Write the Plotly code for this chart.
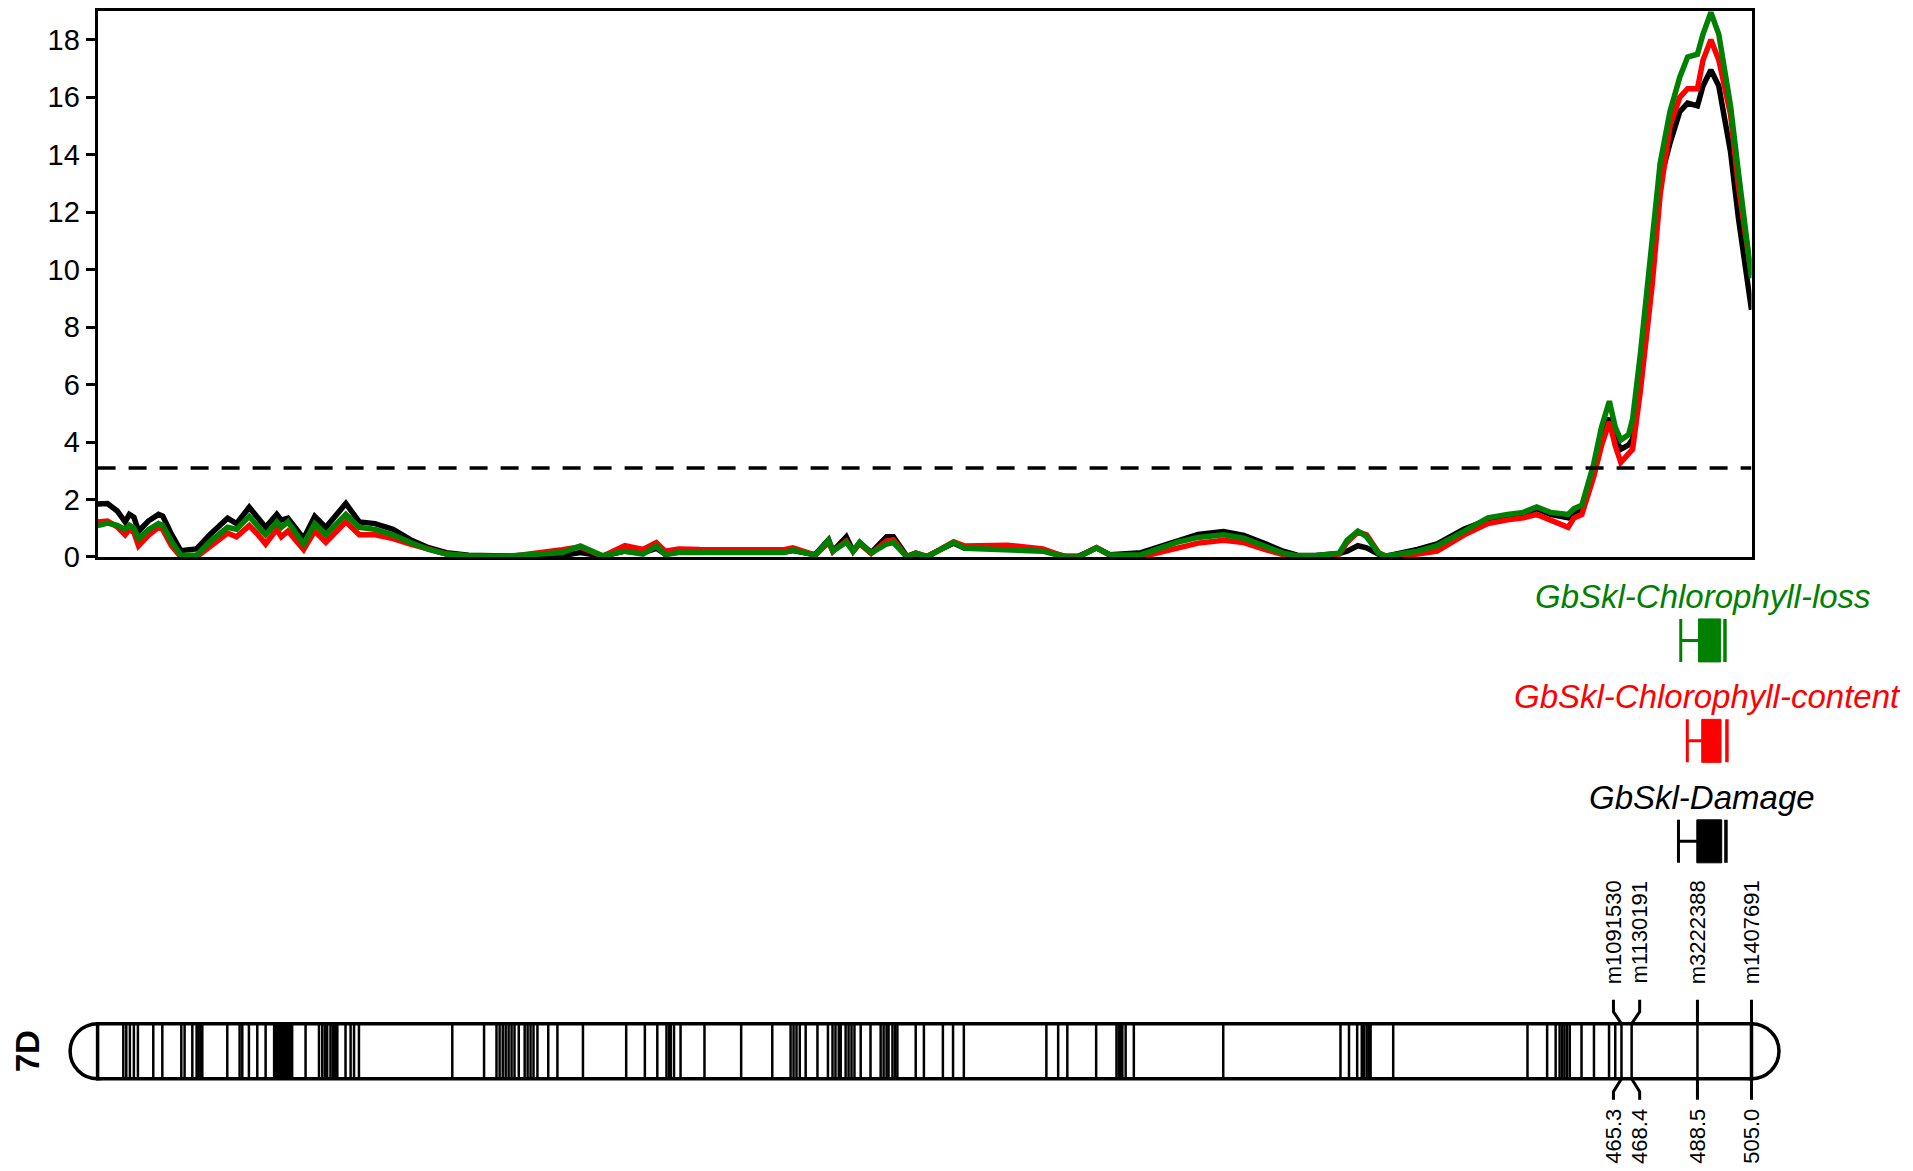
import plotly.graph_objects as go

W, H = 1913, 1171
OFF = 8                          # default page body margin of the written html
KY = 0.985                       # measured vertical scale of the photographed page
FW = W - 2 * OFF
FH = round(H / KY) - 2 * OFF

# ---------------- data ----------------
pos_mb = [0, 3, 6, 8.4, 9.7, 11.1, 12.5, 15.5, 18.6, 19.9, 22.5, 25.4, 30.2, 34.5, 39.7, 42.4,
          46.3, 48.8, 51.3, 54.7, 56.1, 58.1, 62.9, 66.3, 69.7, 75.8, 79.9, 84.7, 90.2, 95.5,
          101.1, 106.5, 113.3, 125, 141.9, 147.4, 154.2, 161.0, 166.5, 170.6, 173.3, 177.4,
          183.9, 195.9, 209.6, 212.3, 219.1, 223.2, 224.5, 228.6, 230.7, 232.7, 236.2, 240.9,
          243.0, 247.1, 249.8, 253.2, 261.4, 264.8, 277.7, 288.6, 295.5, 299.5, 305.0, 309.1,
          318.6, 324.0, 329.5, 336.0, 343.8, 350.0, 356.8, 362.0, 366.3, 372.0, 379.1, 381.5,
          384.8, 387.5, 391.1, 393.4,
          403.0, 409.0, 417.3, 424.5, 430.5, 435.3, 439.4, 443.6, 449.0, 450.8, 453.2, 456.8,
          459.2, 461.6, 463.4, 465.1, 467.5, 468.7, 471.1, 474.7, 477.1, 480.1, 483.1, 485.5,
          488.5, 490.2, 492.6, 495.0, 498.6, 501.0, 505.0]

lod_damage = [1.84, 1.86, 1.6, 1.22, 1.48, 1.38, 0.9, 1.25, 1.48, 1.42, 0.8, 0.22, 0.28, 0.8, 1.35, 1.16,
              1.73, 1.4, 1.03, 1.48, 1.28, 1.35, 0.64, 1.41, 1.03, 1.86, 1.22, 1.16, 0.96, 0.6,
              0.32, 0.15, 0.06, 0.03, 0.05, 0.15, 0.03, 0.2, 0.15, 0.3, 0.1, 0.18,
              0.2, 0.2, 0.17, 0.22, 0.08, 0.6, 0.2, 0.7, 0.2, 0.5, 0.15, 0.7,
              0.7, 0.02, 0.13, 0.02, 0.48, 0.3, 0.35, 0.22, 0.02, 0.02, 0.32, 0.08,
              0.15, 0.35, 0.58, 0.78, 0.88, 0.75, 0.45, 0.2, 0.06, 0.05, 0.12, 0.2,
              0.39, 0.32, 0.1, 0.03,
              0.26, 0.45, 0.97, 1.29, 1.42, 1.48, 1.68, 1.48, 1.36, 1.55, 1.68, 3.1,
              4.1, 4.84, 4.1, 3.75, 3.9, 4.1, 6.46, 10.3, 13.1, 14.4, 15.5, 15.8,
              15.7, 16.4, 16.95, 16.4, 14.1, 11.8, 8.6]

lod_content = [1.22, 1.25, 1.05, 0.77, 0.96, 0.85, 0.39, 0.75, 1.03, 0.95, 0.4, 0.0, 0.0, 0.35, 0.83, 0.7,
               1.09, 0.8, 0.45, 0.96, 0.7, 0.9, 0.26, 0.9, 0.51, 1.22, 0.77, 0.77, 0.64, 0.45,
               0.26, 0.1, 0.02, 0.0, 0.25, 0.35, 0.02, 0.39, 0.26, 0.5, 0.2, 0.28,
               0.26, 0.26, 0.25, 0.32, 0.06, 0.5, 0.2, 0.55, 0.2, 0.45, 0.12, 0.55,
               0.6, 0.0, 0.13, 0.0, 0.53, 0.38, 0.41, 0.28, 0.0, 0.0, 0.32, 0.06,
               0.0, 0.15, 0.32, 0.48, 0.58, 0.5, 0.25, 0.08, 0.0, 0.02, 0.1, 0.5,
               0.87, 0.77, 0.15, 0.02,
               0.1, 0.2, 0.77, 1.16, 1.29, 1.36, 1.48, 1.29, 1.03, 1.36, 1.48, 2.78,
               3.87, 4.71, 3.87, 3.29, 3.6, 3.75, 5.81, 9.5, 12.6, 15.0, 16.0, 16.3,
               16.3, 17.3, 18.0, 17.3, 15.4, 12.9, 9.8]

lod_loss = [1.09, 1.18, 1.1, 0.96, 1.1, 1.0, 0.64, 0.95, 1.16, 1.1, 0.55, 0.06, 0.06, 0.55, 1.03, 0.96,
            1.41, 1.1, 0.77, 1.22, 1.03, 1.22, 0.45, 1.16, 0.77, 1.48, 1.03, 0.96, 0.77, 0.5,
            0.26, 0.1, 0.04, 0.03, 0.15, 0.38, 0.04, 0.2, 0.1, 0.38, 0.08, 0.15,
            0.15, 0.15, 0.15, 0.24, 0.06, 0.58, 0.2, 0.51, 0.2, 0.51, 0.13, 0.45,
            0.5, 0.0, 0.13, 0.0, 0.51, 0.3, 0.26, 0.2, 0.0, 0.0, 0.32, 0.07,
            0.08, 0.28, 0.51, 0.68, 0.77, 0.65, 0.35, 0.13, 0.04, 0.05, 0.13, 0.58,
            0.9, 0.7, 0.13, 0.03,
            0.2, 0.39, 0.9, 1.36, 1.48, 1.55, 1.74, 1.55, 1.48, 1.68, 1.8, 3.23,
            4.52, 5.42, 4.52, 4.07, 4.26, 4.8, 7.1, 10.85, 13.7, 15.5, 16.7, 17.4,
            17.5, 18.2, 18.95, 18.2, 15.7, 13.4, 9.7]

lod_threshold = 3.1
y_tick_vals = [0, 2, 4, 6, 8, 10, 12, 14, 16, 18]

chrom_name = "7D"
chrom_len = 505.0
band_mb = [7.85, 8.76, 9.86, 11.08, 12.31, 17.0, 19.76, 25.56, 26.56, 28.92, 30.23, 30.84, 31.45, 31.97,
           39.6, 43.36, 44.18, 46.2, 48.76, 51.3, 53.9, 54.35, 54.8, 55.27, 55.7, 56.2, 56.6, 57.1,
           57.6, 58.0, 58.5, 58.9, 59.4, 63.5, 67.6, 68.6, 69.4, 70.1, 71.1, 71.8, 72.3, 72.8, 73.2,
           75.7, 77.25, 78.3, 79.8, 108.3, 118.0, 121.8, 122.75, 123.7, 124.6, 125.5, 126.4, 127.3,
           128.6, 130.4, 131.3, 132.2, 133.1, 134.3, 137.6, 140.4, 148.2, 161.4, 167.1, 170.9,
           173.7, 174.5, 175.0, 176.0, 178.0, 185.3, 196.5, 206.0, 211.6, 212.5, 213.4, 214.4,
           216.2, 219.8, 223.0, 224.4, 225.3, 226.3, 226.9, 228.4, 229.3, 230.2, 231.1, 233.0,
           236.0, 239.1, 240.0, 240.9, 241.5, 242.7, 243.5, 244.2, 249.8, 252.3, 258.1, 261.2,
           264.5, 289.7, 293.3, 296.1, 304.9, 311.1, 311.8, 312.4, 312.9, 313.9, 316.4, 343.7,
           379.5, 382.1, 384.6, 386.0, 386.7, 387.5, 388.2, 388.7, 395.6, 436.6, 442.6, 445.2,
           446.4, 447.2, 447.9, 448.7, 449.5, 453.1, 456.9, 461.5, 463.4]

marker_names = ["m1091530", "m1130191", "m3222388", "m1407691"]
marker_mb = [465.3, 468.4, 488.5, 505.0]

qtl_names = ["GbSkl-Chlorophyll-loss", "GbSkl-Chlorophyll-content", "GbSkl-Damage"]
qtl_colors = ["#008000", "#ff0000", "#000000"]
qtl_outer_left = [483.4, 485.4, 482.7]
qtl_box_left = [488.8, 489.8, 488.3]
qtl_box_right = [495.6, 495.7, 495.9]
qtl_outer_right = [496.9, 497.5, 497.2]

# ---------------- layout geometry (target picture pixels) ----------------
X0, X1 = 97.6, 1751.5          # pixel positions of 0 and chrom_len
PXMB = (X1 - X0) / chrom_len
TOP, BOT = 9, 555              # LOD plot area
CT, CB = 1022, 1077            # chromosome top/bottom
CH = CB - CT
PAD_MB = 12
Y2_LO, Y2_HI = -0.6, 1.6
FONT = "Liberation Sans, Arial"


def fx(p):
    return (p - OFF) / FW


def fy(p):
    return 1 - (p / KY - OFF) / FH


fig = go.Figure()

# LOD curves
for vals, col in [(lod_damage, "#000000"), (lod_content, "#ff0000"), (lod_loss, "#008000")]:
    fig.add_trace(go.Scatter(x=pos_mb, y=vals, mode="lines",
                             line=dict(color=col, width=5.5), xaxis="x", yaxis="y",
                             hoverinfo="skip"))

# threshold
fig.add_trace(go.Scatter(x=[0, chrom_len], y=[lod_threshold, lod_threshold], mode="lines",
                         line=dict(color="black", width=3.5, dash="18px,13px"),
                         xaxis="x", yaxis="y", hoverinfo="skip"))

# chromosome bands
bx, by = [], []
for b in band_mb + marker_mb:
    bx += [b, b, None]
    by += [0, 1, None]
fig.add_trace(go.Scatter(x=bx, y=by, mode="lines", line=dict(color="black", width=2.5),
                         xaxis="x2", yaxis="y2", hoverinfo="skip"))

# marker label positions (spread apart when too close)
min_sep = 8.0
lab_pos = list(marker_mb)
for _ in range(20):
    for i in range(len(lab_pos) - 1):
        if lab_pos[i + 1] - lab_pos[i] < min_sep:
            mid = (lab_pos[i] + lab_pos[i + 1]) / 2
            lab_pos[i] = mid - min_sep / 2
            lab_pos[i + 1] = mid + min_sep / 2

top_end = 1 + (CT - 998) / CH
top_bend = 1 + (CT - 1010) / CH
bot_bend = -(1090 - CB) / CH
bot_end = -(1098 - CB) / CH
cx, cy = [], []
for p, lp in zip(marker_mb, lab_pos):
    cx += [lp, lp, p, p, None, p, p, lp, lp, None]
    cy += [top_end, top_bend, 1, 1, None, 0, 0, bot_bend, bot_end, None]
fig.add_trace(go.Scatter(x=cx, y=cy, mode="lines", line=dict(color="black", width=3),
                         xaxis="x2", yaxis="y2", hoverinfo="skip"))

shapes = []
cap = (CH / 2) / PXMB
for c in [0, chrom_len]:
    shapes.append(dict(type="circle", xref="x2", yref="y2", x0=c - cap, x1=c + cap, y0=0, y1=1,
                       line=dict(color="black", width=3.5), fillcolor="white", layer="below"))
shapes.append(dict(type="rect", xref="x2", yref="y2", x0=0, x1=chrom_len, y0=0, y1=1,
                   line=dict(color="black", width=3.5), fillcolor="white", layer="below"))

# QTL glyphs
annotations = []
for i, name in enumerate(qtl_names):
    col = qtl_colors[i]
    yc = 638.5 + 100.5 * i
    y0, y1 = fy(yc + 21.5), fy(yc - 21.5)
    L, bl, br, R = qtl_outer_left[i], qtl_box_left[i], qtl_box_right[i], qtl_outer_right[i]
    shapes.append(dict(type="line", xref="x", yref="paper", x0=L, x1=L, y0=y0, y1=y1,
                       line=dict(color=col, width=3)))
    shapes.append(dict(type="line", xref="x", yref="paper", x0=L, x1=bl, y0=fy(yc), y1=fy(yc),
                       line=dict(color=col, width=3)))
    shapes.append(dict(type="rect", xref="x", yref="paper", x0=bl, x1=br, y0=y0, y1=y1,
                       line=dict(color=col, width=1), fillcolor=col))
    shapes.append(dict(type="line", xref="x", yref="paper", x0=R, x1=R, y0=y0, y1=y1,
                       line=dict(color=col, width=3.5)))
    annotations.append(dict(text="<i>%s</i>" % name, xref="x", yref="paper", x=(L + R) / 2,
                            y=fy(yc - 44), xanchor="center", yanchor="middle", showarrow=False,
                            font=dict(family=FONT, size=33, color=col)))

for nm, p, lp in zip(marker_names, marker_mb, lab_pos):
    annotations.append(dict(text=nm, xref="x2", yref="paper", x=lp, y=fy(984), textangle=-90,
                            xanchor="center", yanchor="bottom", showarrow=False,
                            font=dict(family=FONT, size=22, color="black")))
    annotations.append(dict(text="%.1f" % p, xref="x2", yref="paper", x=lp, y=fy(1105), textangle=-90,
                            xanchor="center", yanchor="top", showarrow=False,
                            font=dict(family=FONT, size=22, color="black")))

annotations.append(dict(text="<b>%s</b>" % chrom_name, xref="paper", yref="paper", x=fx(27),
                        y=fy((CT + CB) / 2), textangle=-90, xanchor="center", yanchor="middle",
                        showarrow=False, borderpad=0,
                        font=dict(family=FONT, size=33, color="black")))

fig.update_layout(
    width=FW, height=FH, margin=dict(l=0, r=0, t=0, b=0),
    paper_bgcolor="white", plot_bgcolor="white", showlegend=False,
    xaxis=dict(domain=[fx(X0), fx(X1)], range=[0, chrom_len], showline=True, linecolor="black",
               linewidth=3, mirror=True, ticks="", showticklabels=False, showgrid=False,
               zeroline=False, anchor="y"),
    yaxis=dict(domain=[fy(BOT), fy(TOP)], range=[0, 19], showline=True, linecolor="black",
               linewidth=3, mirror=True, ticks="outside", ticklen=9, tickwidth=3, tickcolor="black",
               tickvals=y_tick_vals, showgrid=False, zeroline=False, anchor="x",
               tickfont=dict(family=FONT, size=29, color="black")),
    xaxis2=dict(domain=[fx(X0 - PAD_MB * PXMB), fx(X1 + PAD_MB * PXMB)],
                range=[-PAD_MB, chrom_len + PAD_MB], visible=False, anchor="y2"),
    yaxis2=dict(domain=[fy(CB - Y2_LO * CH), fy(CT - (Y2_HI - 1) * CH)], range=[Y2_LO, Y2_HI],
                visible=False, anchor="x2"),
    shapes=shapes, annotations=annotations,
)

fig.write_html("out.html")
